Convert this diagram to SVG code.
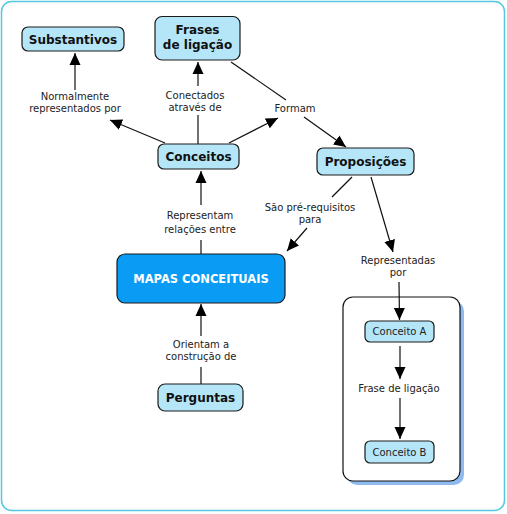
<svg xmlns="http://www.w3.org/2000/svg" width="507" height="514" viewBox="0 0 507 514">
<defs>
<marker id="ah" viewBox="0 0 12 12" refX="12" refY="6" markerWidth="12" markerHeight="12" markerUnits="userSpaceOnUse" orient="auto">
<path d="M0,0.5 L12,6 L0,11.5 z" fill="#000"/>
</marker>
<style>
.node{fill:#b4e6f8;stroke:#1a1a1a;stroke-width:1.2}
.bt{font-family:"DejaVu Sans",Verdana,sans-serif;font-size:12px;font-weight:bold;fill:#111;text-anchor:middle}
.lt{font-family:"DejaVu Sans",Verdana,sans-serif;font-size:10px;fill:#222;text-anchor:middle}
.ln{stroke:#111;stroke-width:1.2;fill:none}
.ar{stroke:#111;stroke-width:1.2;fill:none;marker-end:url(#ah)}
</style>
</defs>
<rect x="1.5" y="1.5" width="503" height="509" rx="10" fill="#fff" stroke="#55c8e0" stroke-width="1.5"/>

<g id="exemplo">
<rect x="347" y="301" width="117" height="184" rx="10" fill="#8fbaf0"/>
<rect x="343" y="297" width="117" height="184" rx="10" fill="#fff" stroke="#111" stroke-width="1.2"/>
</g>

<g id="connectors">
<line class="ar" x1="165" y1="143" x2="110" y2="120"/>
<line class="ar" x1="75" y1="90" x2="75" y2="53"/>
<line class="ln" x1="198" y1="144" x2="198" y2="115"/>
<line class="ar" x1="198" y1="86" x2="198" y2="62"/>
<line class="ar" x1="229" y1="143" x2="278" y2="118"/>
<line class="ln" x1="231" y1="62" x2="286" y2="100"/>
<line class="ar" x1="304" y1="117" x2="346" y2="147"/>
<line class="ln" x1="352" y1="177" x2="332" y2="197"/>
<line class="ar" x1="307" y1="228" x2="287" y2="251"/>
<line class="ar" x1="371" y1="177" x2="393" y2="252"/>
<line class="ar" x1="399" y1="282" x2="399.5" y2="320"/>
<line class="ln" x1="201" y1="254" x2="201" y2="240"/>
<line class="ar" x1="201" y1="205" x2="201" y2="171"/>
<line class="ln" x1="201" y1="384" x2="201" y2="367"/>
<line class="ar" x1="201" y1="336" x2="201" y2="304"/>
<line class="ar" x1="400" y1="346" x2="400" y2="379"/>
<line class="ar" x1="400" y1="398" x2="400" y2="439"/>
</g>

<g id="labels">
<text class="lt" x="75" y="100">Normalmente</text>
<text class="lt" x="75" y="112">representados por</text>
<text class="lt" x="195" y="99">Conectados</text>
<text class="lt" x="195" y="111">através de</text>
<text class="lt" x="295" y="112">Formam</text>
<text class="lt" x="310" y="211">São pré-requisitos</text>
<text class="lt" x="310" y="223">para</text>
<text class="lt" x="398" y="264">Representadas</text>
<text class="lt" x="398" y="276">por</text>
<text class="lt" x="200" y="219">Representam</text>
<text class="lt" x="200" y="233">relações entre</text>
<text class="lt" x="201" y="348">Orientam a</text>
<text class="lt" x="201" y="360">construção de</text>
<text class="lt" x="399" y="392">Frase de ligação</text>
</g>

<g id="substantivos">
<rect class="node" x="22" y="27" width="102" height="24" rx="6"/>
<text class="bt" x="73" y="43.5">Substantivos</text>
</g>
<g id="frases">
<rect class="node" x="155" y="16.5" width="85" height="43.5" rx="7"/>
<text class="bt" x="197.5" y="34">Frases</text>
<text class="bt" x="197.5" y="49">de ligação</text>
</g>
<g id="conceitos">
<rect class="node" x="158" y="144" width="81" height="25" rx="6"/>
<text class="bt" x="198.5" y="161">Conceitos</text>
</g>
<g id="proposicoes">
<rect class="node" x="317" y="148" width="97" height="27" rx="6"/>
<text class="bt" x="365.5" y="166">Proposições</text>
</g>
<g id="mapas">
<rect x="117" y="254" width="168" height="49" rx="8" fill="#0a9bf5" stroke="#1a1a1a" stroke-width="1.2"/>
<text class="bt" x="201" y="283" style="fill:#fff;font-size:11.5px">MAPAS CONCEITUAIS</text>
</g>
<g id="perguntas">
<rect class="node" x="158" y="384" width="85" height="27" rx="7"/>
<text class="bt" x="200.5" y="401.5">Perguntas</text>
</g>
<g id="conceitoA">
<rect class="node" x="365" y="321" width="69" height="21" rx="5"/>
<text class="lt" x="399.5" y="335">Conceito A</text>
</g>
<g id="conceitoB">
<rect class="node" x="365" y="441" width="69" height="22" rx="5"/>
<text class="lt" x="399.5" y="455.5">Conceito B</text>
</g>
</svg>
